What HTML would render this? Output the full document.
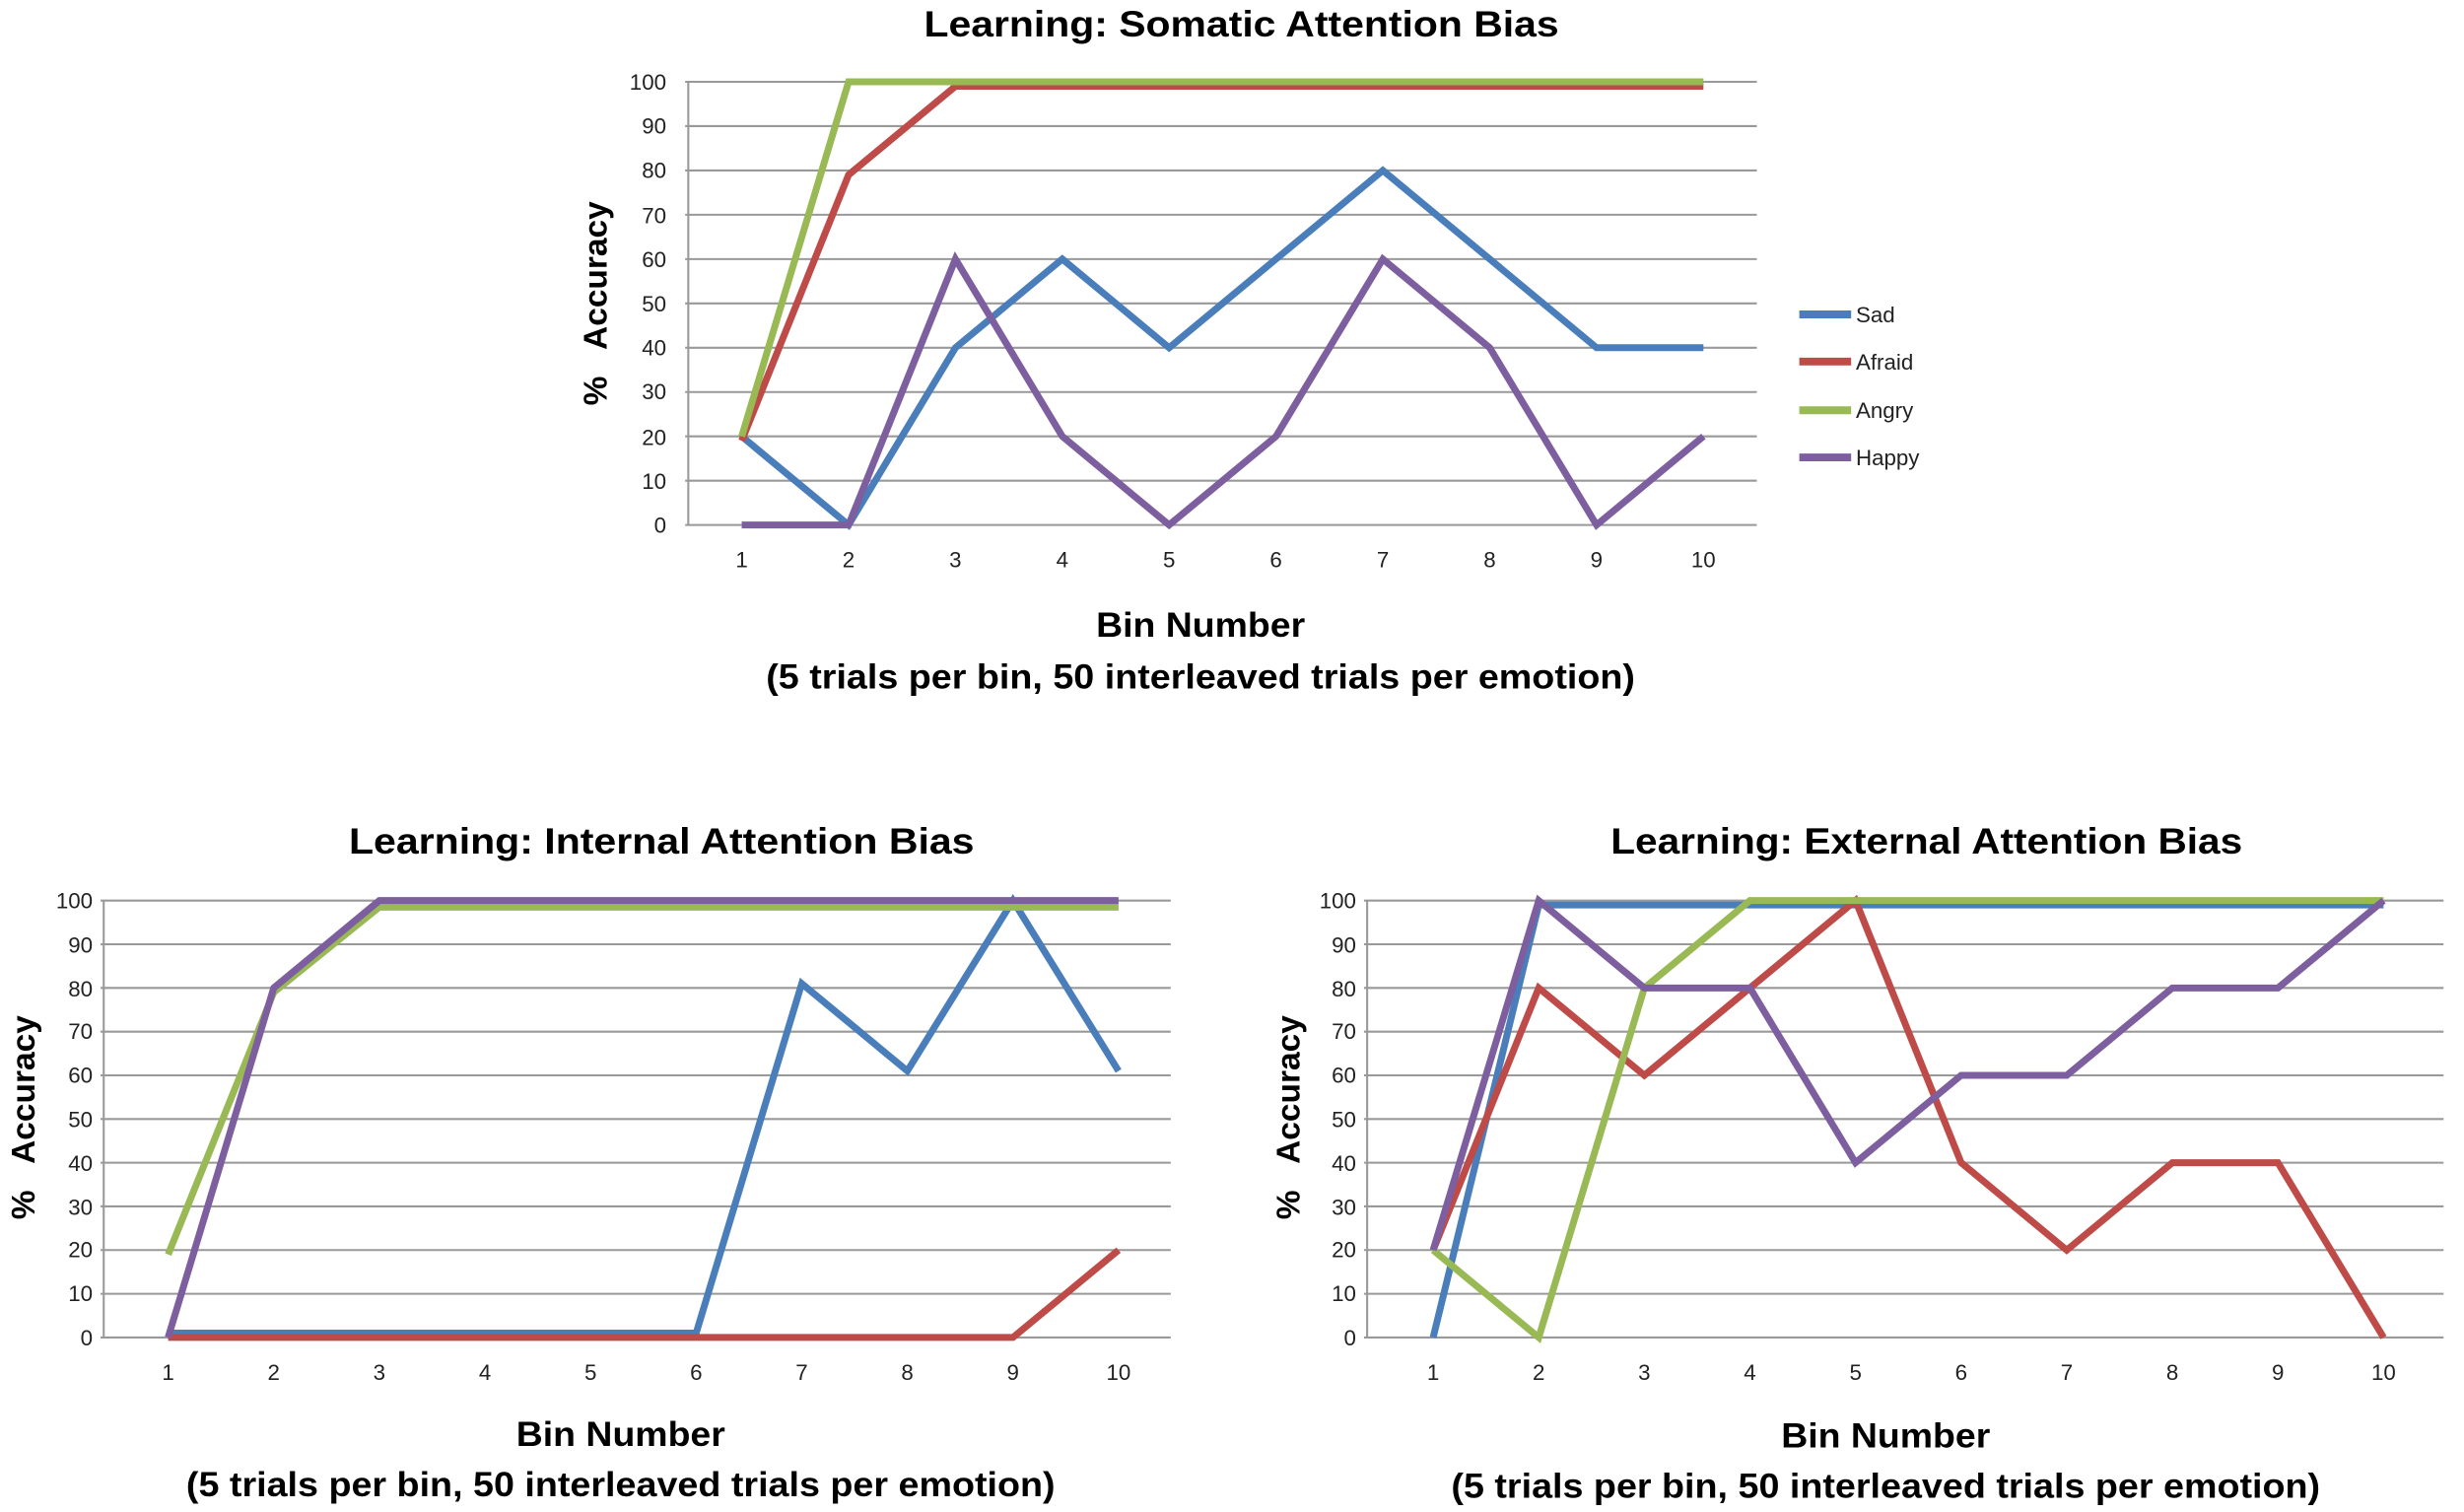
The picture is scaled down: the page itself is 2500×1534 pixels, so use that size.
<!DOCTYPE html>
<html><head><meta charset="utf-8"><style>html,body{margin:0;padding:0;background:#fff}svg{display:block}</style></head>
<body>
<svg width="2500" height="1534" viewBox="0 0 1568 962" xmlns="http://www.w3.org/2000/svg" font-family="Liberation Sans, sans-serif">
<rect width="1568" height="962" fill="#fff"/>
<!-- TOP CHART -->
<g stroke="#999" stroke-width="1.3">
<line x1="436" y1="334" x2="1118" y2="334"/><line x1="436" y1="305.8" x2="1118" y2="305.8"/><line x1="436" y1="277.6" x2="1118" y2="277.6"/><line x1="436" y1="249.4" x2="1118" y2="249.4"/><line x1="436" y1="221.2" x2="1118" y2="221.2"/><line x1="436" y1="193" x2="1118" y2="193"/><line x1="436" y1="164.8" x2="1118" y2="164.8"/><line x1="436" y1="136.6" x2="1118" y2="136.6"/><line x1="436" y1="108.4" x2="1118" y2="108.4"/><line x1="436" y1="80.2" x2="1118" y2="80.2"/><line x1="436" y1="52" x2="1118" y2="52"/>
<line x1="438" y1="52" x2="438" y2="334"/>
</g>
<g font-size="14" text-anchor="end" fill="#222">
<text x="424" y="339">0</text><text x="424" y="311">10</text><text x="424" y="283">20</text><text x="424" y="254">30</text><text x="424" y="226">40</text><text x="424" y="198">50</text><text x="424" y="170">60</text><text x="424" y="142">70</text><text x="424" y="113">80</text><text x="424" y="85">90</text><text x="424" y="57">100</text>
</g>
<g font-size="14" text-anchor="middle" fill="#222">
<text x="472" y="361">1</text><text x="540" y="361">2</text><text x="608" y="361">3</text><text x="676" y="361">4</text><text x="744" y="361">5</text><text x="812" y="361">6</text><text x="880" y="361">7</text><text x="948" y="361">8</text><text x="1016" y="361">9</text><text x="1084" y="361">10</text>
</g>
<g transform="translate(404,334) scale(68,-2.82)" fill="none" stroke-width="7">
<polyline vector-effect="non-scaling-stroke" stroke="#4a7ebb" points="1,20 2,0 3,40 4,60 5,40 6,60 7,80 8,60 9,40 10,40"/>
<polyline vector-effect="non-scaling-stroke" stroke="#be4b48" points="1,19 2,79 3,99 4,99 5,99 6,99 7,99 8,99 9,99 10,99"/>
<polyline vector-effect="non-scaling-stroke" stroke="#98b954" points="1,20 2,100 3,100 4,100 5,100 6,100 7,100 8,100 9,100 10,100"/>
<polyline vector-effect="non-scaling-stroke" stroke="#7d5fa0" points="1,0 2,0 3,60 4,20 5,0 6,20 7,60 8,40 9,0 10,20"/>
</g>
<g stroke-width="5">
<line x1="1145" y1="200" x2="1178" y2="200" stroke="#4a7ebb"/>
<line x1="1145" y1="230" x2="1178" y2="230" stroke="#be4b48"/>
<line x1="1145" y1="261" x2="1178" y2="261" stroke="#98b954"/>
<line x1="1145" y1="291" x2="1178" y2="291" stroke="#7d5fa0"/>
</g>
<g font-size="14" fill="#222">
<text x="1181" y="205">Sad</text><text x="1181" y="235">Afraid</text><text x="1181" y="266">Angry</text><text x="1181" y="296">Happy</text>
</g>
<text x="790" y="23" font-size="23" font-weight="bold" text-anchor="middle" textLength="404" lengthAdjust="spacingAndGlyphs">Learning: Somatic Attention Bias</text>
<text transform="translate(386,193) rotate(-90)" font-size="21" font-weight="bold" text-anchor="middle" xml:space="preserve">%   Accuracy</text>
<text x="764" y="405" font-size="22" font-weight="bold" text-anchor="middle" textLength="133" lengthAdjust="spacingAndGlyphs">Bin Number</text>
<text x="764" y="438" font-size="22" font-weight="bold" text-anchor="middle" textLength="553" lengthAdjust="spacingAndGlyphs">(5 trials per bin, 50 interleaved trials per emotion)</text>

<!-- BOTTOM LEFT -->
<g stroke="#999" stroke-width="1.3">
<line x1="64" y1="851" x2="745" y2="851"/><line x1="64" y1="823.2" x2="745" y2="823.2"/><line x1="64" y1="795.4" x2="745" y2="795.4"/><line x1="64" y1="767.6" x2="745" y2="767.6"/><line x1="64" y1="739.8" x2="745" y2="739.8"/><line x1="64" y1="712" x2="745" y2="712"/><line x1="64" y1="684.2" x2="745" y2="684.2"/><line x1="64" y1="656.4" x2="745" y2="656.4"/><line x1="64" y1="628.6" x2="745" y2="628.6"/><line x1="64" y1="600.8" x2="745" y2="600.8"/><line x1="64" y1="573" x2="745" y2="573"/>
<line x1="66" y1="573" x2="66" y2="851"/>
</g>
<g font-size="14" text-anchor="end" fill="#222">
<text x="59" y="856">0</text><text x="59" y="828">10</text><text x="59" y="800">20</text><text x="59" y="773">30</text><text x="59" y="745">40</text><text x="59" y="717">50</text><text x="59" y="689">60</text><text x="59" y="661">70</text><text x="59" y="634">80</text><text x="59" y="606">90</text><text x="59" y="578">100</text>
</g>
<g font-size="14" text-anchor="middle" fill="#222">
<text x="107" y="878">1</text><text x="174.2" y="878">2</text><text x="241.4" y="878">3</text><text x="308.6" y="878">4</text><text x="375.8" y="878">5</text><text x="443" y="878">6</text><text x="510.2" y="878">7</text><text x="577.4" y="878">8</text><text x="644.6" y="878">9</text><text x="711.8" y="878">10</text>
</g>
<g transform="translate(39.8,851) scale(67.2,-2.78)" fill="none" stroke-width="7">
<polyline vector-effect="non-scaling-stroke" stroke="#4a7ebb" points="1,1 2,1 3,1 4,1 5,1 6,1 7,81 8,61 9,100 10,61"/>
<polyline vector-effect="non-scaling-stroke" stroke="#be4b48" points="1,0 2,0 3,0 4,0 5,0 6,0 7,0 8,0 9,0 10,20"/>
<polyline vector-effect="non-scaling-stroke" stroke="#98b954" points="1,19 2,79 3,98.5 4,98.5 5,98.5 6,98.5 7,98.5 8,98.5 9,98.5 10,98.5"/>
<polyline vector-effect="non-scaling-stroke" stroke="#7d5fa0" points="1,0 2,80 3,100 4,100 5,100 6,100 7,100 8,100 9,100 10,100"/>
</g>
<text x="421" y="543" font-size="23" font-weight="bold" text-anchor="middle" textLength="398" lengthAdjust="spacingAndGlyphs">Learning: Internal Attention Bias</text>
<text transform="translate(22,711) rotate(-90)" font-size="21" font-weight="bold" text-anchor="middle" xml:space="preserve">%   Accuracy</text>
<text x="395" y="920" font-size="22" font-weight="bold" text-anchor="middle" textLength="133" lengthAdjust="spacingAndGlyphs">Bin Number</text>
<text x="395" y="952" font-size="22" font-weight="bold" text-anchor="middle" textLength="553" lengthAdjust="spacingAndGlyphs">(5 trials per bin, 50 interleaved trials per emotion)</text>

<!-- BOTTOM RIGHT -->
<g stroke="#999" stroke-width="1.3">
<line x1="868" y1="851" x2="1555" y2="851"/><line x1="868" y1="823.2" x2="1555" y2="823.2"/><line x1="868" y1="795.4" x2="1555" y2="795.4"/><line x1="868" y1="767.6" x2="1555" y2="767.6"/><line x1="868" y1="739.8" x2="1555" y2="739.8"/><line x1="868" y1="712" x2="1555" y2="712"/><line x1="868" y1="684.2" x2="1555" y2="684.2"/><line x1="868" y1="656.4" x2="1555" y2="656.4"/><line x1="868" y1="628.6" x2="1555" y2="628.6"/><line x1="868" y1="600.8" x2="1555" y2="600.8"/><line x1="868" y1="573" x2="1555" y2="573"/>
<line x1="870" y1="573" x2="870" y2="851"/>
</g>
<g font-size="14" text-anchor="end" fill="#222">
<text x="863" y="856">0</text><text x="863" y="828">10</text><text x="863" y="800">20</text><text x="863" y="773">30</text><text x="863" y="745">40</text><text x="863" y="717">50</text><text x="863" y="689">60</text><text x="863" y="661">70</text><text x="863" y="634">80</text><text x="863" y="606">90</text><text x="863" y="578">100</text>
</g>
<g font-size="14" text-anchor="middle" fill="#222">
<text x="912" y="878">1</text><text x="979.2" y="878">2</text><text x="1046.4" y="878">3</text><text x="1113.6" y="878">4</text><text x="1180.8" y="878">5</text><text x="1248" y="878">6</text><text x="1315.2" y="878">7</text><text x="1382.4" y="878">8</text><text x="1449.6" y="878">9</text><text x="1516.8" y="878">10</text>
</g>
<g transform="translate(844.8,851) scale(67.2,-2.78)" fill="none" stroke-width="7">
<polyline vector-effect="non-scaling-stroke" stroke="#4a7ebb" points="1,0 2,99 3,99 4,99 5,99 6,99 7,99 8,99 9,99 10,99"/>
<polyline vector-effect="non-scaling-stroke" stroke="#be4b48" points="1,20 2,80 3,60 4,80 5,100 6,40 7,20 8,40 9,40 10,0"/>
<polyline vector-effect="non-scaling-stroke" stroke="#98b954" points="1,20 2,0 3,80 4,100 5,100 6,100 7,100 8,100 9,100 10,100"/>
<polyline vector-effect="non-scaling-stroke" stroke="#7d5fa0" points="1,20 2,100 3,80 4,80 5,40 6,60 7,60 8,80 9,80 10,100"/>
</g>
<text x="1226" y="543" font-size="23" font-weight="bold" text-anchor="middle" textLength="402" lengthAdjust="spacingAndGlyphs">Learning: External Attention Bias</text>
<text transform="translate(827,711) rotate(-90)" font-size="21" font-weight="bold" text-anchor="middle" xml:space="preserve">%   Accuracy</text>
<text x="1200" y="921" font-size="22" font-weight="bold" text-anchor="middle" textLength="133" lengthAdjust="spacingAndGlyphs">Bin Number</text>
<text x="1200" y="953" font-size="22" font-weight="bold" text-anchor="middle" textLength="553" lengthAdjust="spacingAndGlyphs">(5 trials per bin, 50 interleaved trials per emotion)</text>
</svg>
</body></html>
